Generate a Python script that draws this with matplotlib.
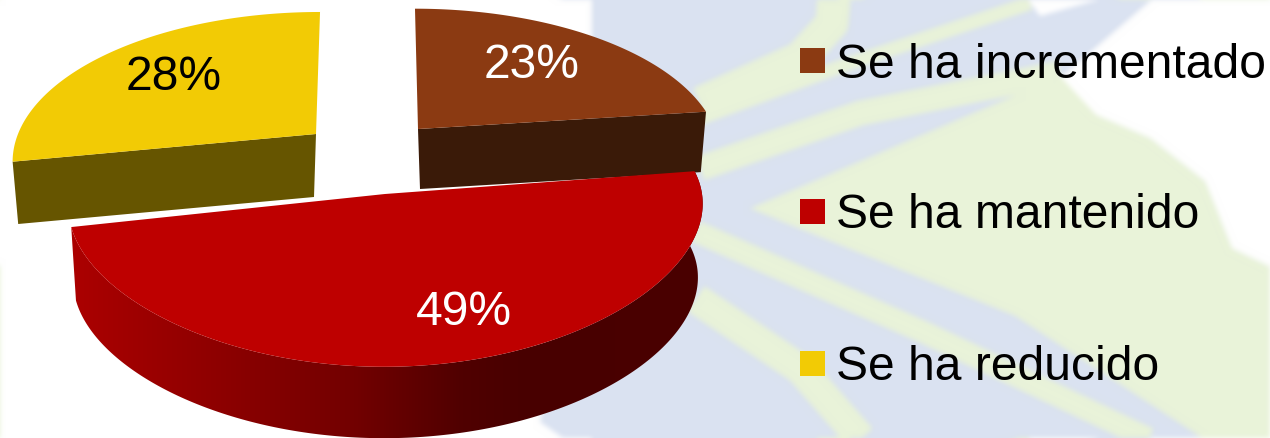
import matplotlib
matplotlib.use('Agg')
import matplotlib.pyplot as plt
import numpy as np
from matplotlib.colors import LinearSegmentedColormap
from matplotlib.patches import Polygon, Rectangle

plt.rcParams['font.family'] = ['Liberation Sans', 'DejaVu Sans']

W, H = 1270, 439

# datos
categorias = ['Se ha incrementado', 'Se ha mantenido', 'Se ha reducido']
valores = [23, 49, 28]

# estilo
color_cara = ['#8B3A12', '#BE0000', '#F2CB05']
color_lado = ['#3A1A08', '#4A0000', '#665500']
color_texto = ['white', 'white', 'black']
pos_texto = [(532, 66), (464, 313), (174, 78)]
leyenda_y = [65, 216, 368]

# geometria de cada porcion: vertice, radios, inclinacion
vertice = [(418, 130), (385, 195), (316, 135)]
radio_x = [297, 316, 298]
radio_y = [141, 143, 143]
corte = [-0.025, -0.05, 0.033]
giro = [0.0, 0.017, 0.0]
caida = [(2, 60), (0, 74), (-2, 63)]
k_x = [0.172, 0.08, 0.172]
escala = [0.975, 0.985, 0.975]  # base del cilindro respecto a la cara
K = 0.172      # perspectiva


def proyectar(i, t):
    t = np.radians(t)
    u, v = np.cos(t), np.sin(t)
    x = radio_x[i] * u / (1 + k_x[i] * v)
    y = -radio_y[i] * v / (1 + K * v)
    return x - corte[i] * y, y - giro[i] * x


def dibujar_fondo():
    # marca de agua de la diapositiva, se dibuja aparte y se difumina
    f = plt.figure(figsize=(W / 100, H / 100), dpi=100)
    a = f.add_axes([0, 0, 1, 1])
    a.set_xlim(0, W)
    a.set_ylim(H, 0)
    a.axis('off')
    azul = '#DAE2F1'
    verde = '#E9F3D9'
    a.add_patch(Polygon([(592, -10), (1020, -10), (1040, 18), (1140, -10), (1165, -10), (1060, 80),
                         (1096, 117), (1150, 140), (1205, 183), (1232, 250), (1280, 273),
                         (1280, 450), (579, 450), (540, 423), (592, 200)], color=azul, lw=0))
    a.add_patch(Polygon([(750, 210), (1060, 78), (1096, 117), (1150, 140), (1205, 183),
                         (1232, 250), (1280, 273), (1280, 450), (1219, 450), (1015, 317)],
                        color=verde, lw=0))
    for xs, ys, ancho in [([835, 832, 800, 700], [-10, 25, 60, 105], 24),
                          ([700, 850, 1030], [120, 65, 5], 10),
                          ([700, 860, 1060], [170, 115, 75], 18),
                          ([696, 923, 1170], [233, 333, 450], 16),
                          ([696, 800, 870], [300, 370, 450], 22)]:
        a.plot(xs, ys, color=verde, lw=ancho, solid_capstyle='butt')
    f.canvas.draw()
    img = np.asarray(f.canvas.buffer_rgba())[:, :, :3].astype(float)
    plt.close(f)
    for _ in range(3):
        for eje in (0, 1):
            img = (np.roll(img, 2, eje) + np.roll(img, 1, eje) + img
                   + np.roll(img, -1, eje) + np.roll(img, -2, eje)) / 5
    return img.astype(np.uint8)


fondo = dibujar_fondo()

fig = plt.figure(figsize=(W / 100, H / 100), dpi=100)
ax = fig.add_axes([0, 0, 1, 1])
ax.imshow(fondo, extent=(0, W, H, 0), aspect='auto', zorder=0)

# angulos desde las 12 en sentido horario
acum = np.cumsum([0] + valores) / sum(valores) * 360
inicio = 90 - acum[:-1]
fin = 90 - acum[1:]

for i in [2, 0, 1]:
    vx, vy = vertice[i]
    dx, dy = caida[i]
    t = np.linspace(inicio[i], fin[i], 200)
    px, py = proyectar(i, t)
    arriba_x, arriba_y = vx + px, vy + py
    abajo_x = vx + dx + escala[i] * px
    abajo_y = vy + dy + escala[i] * py

    if i == 1:
        # pared curva con degradado
        borde = np.column_stack([np.r_[arriba_x, abajo_x[::-1]], np.r_[arriba_y, abajo_y[::-1]]])
        pared = Polygon(borde, closed=True, facecolor='none', edgecolor='none', transform=ax.transData)
        ax.add_patch(pared)
        cmap = LinearSegmentedColormap.from_list('lado', [(0, '#AC0000'), (0.2, '#920000'),
                                                          (0.45, '#720000'), (0.62, '#500000'),
                                                          (0.72, '#480000'), (1, '#4A0000')])
        im = ax.imshow(np.linspace(0, 1, 256)[None, :], cmap=cmap, extent=(68, 705, 439, 172),
                       aspect='auto', zorder=2)
        im.set_clip_path(pared)
    else:
        # cara del corte, plana
        j = -1 if i == 0 else 0
        cara = [(vx, vy), (arriba_x[j], arriba_y[j]), (abajo_x[j], abajo_y[j]), (vx + dx, vy + dy)]
        ax.add_patch(Polygon(cara, closed=True, color=color_lado[i], lw=0, zorder=1))

    cara_sup = np.column_stack([np.r_[vx, arriba_x], np.r_[vy, arriba_y]])
    ax.add_patch(Polygon(cara_sup, closed=True, color=color_cara[i], lw=0, zorder=3 if i == 1 else 1))
    ax.text(*pos_texto[i], f'{valores[i]}%', color=color_texto[i], fontsize=34.6,
            ha='center', va='center', zorder=5)

for i, cat in enumerate(categorias):
    ax.add_patch(Rectangle((800, leyenda_y[i] - 16), 25, 25, color=color_cara[i], lw=0, zorder=4))
    ax.text(836, leyenda_y[i], cat, color='black', fontsize=34.6, ha='left', va='center', zorder=5)

ax.set_xlim(0, W)
ax.set_ylim(H, 0)
ax.axis('off')
fig.savefig('out.png', dpi=100)
